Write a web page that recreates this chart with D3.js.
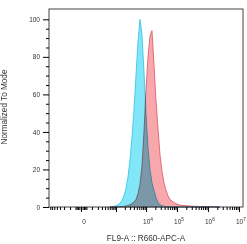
<!DOCTYPE html>
<html>
<head>
<meta charset="utf-8">
<script src="https://cdn.jsdelivr.net/npm/d3@7"></script>
<style>
  body { margin: 0; background: #fff; }
  text { font-family: Arial, "Liberation Sans", sans-serif; }
</style>
</head>
<body>
<div id="chart"></div>
<script>
// fluorescence bin centres (FL9-A :: R660-APC-A)
const binValues = [610, 720, 849, 998, 1170, 1370, 1603, 1872, 2185, 2548,
  2968, 3457, 4024, 4680, 5444, 6328, 7356, 8550, 9930, 11530,
  13390, 15550, 18050, 20960, 24340, 28240, 32790, 38040, 44160, 51260,
  59460, 86200, 125000, 263000, 553000, 2440000];

// normalized to mode (%)
const cyanCounts = [0, 0.2, 0.4, 0.7, 1.2, 2, 3.5, 6, 10, 16,
  25, 37, 52, 70, 88, 100, 92, 72, 50, 32,
  20, 13, 9, 5, 2.5, 1.2, 0.6, 0.4, 0.2, 0.1,
  0, 0, 0, 0, 0, 0];
const redCounts = [0, 0, 0, 0, 0, 0.1, 0.2, 0.3, 0.5, 0.8,
  1.2, 1.8, 2.6, 4, 7, 12, 22, 40, 62, 80,
  91, 94, 76, 57, 42, 28, 19, 13, 9, 6,
  4, 2, 1, 0.5, 0.25, 0];

const yTicks = [0, 20, 40, 60, 80, 100];
const xMajorTicks = [0, 1000, 1e4, 1e5, 1e6, 1e7];
const xLabelTicks = [{v: 0, base: "0", exp: ""}, {v: 1e4, base: "10", exp: "4"},
  {v: 1e5, base: "10", exp: "5"}, {v: 1e6, base: "10", exp: "6"}, {v: 1e7, base: "10", exp: "7"}];

const W = 247, H = 244;
const margin = {left: 49, right: 4, top: 9, bottom: 37};
const xMin = -780, xMax = 1.35e7;

const svg = d3.select("#chart").append("svg")
  .attr("width", W).attr("height", H);

const x = d3.scaleSymlog().constant(80)
  .domain([xMin, xMax])
  .range([margin.left, W - margin.right]);
const y = d3.scaleLinear()
  .domain([0, 105.5])
  .range([H - margin.bottom, margin.top]);

// minor ticks
let xMinor = [];
[10, 20, 30, 40].forEach(v => { xMinor.push(v, -v); });
for (let n = 2; n <= 6; n++) {
  for (let k = 1; k <= 9; k++) {
    const v = k * Math.pow(10, n);
    if (k > 1 || n === 2) {
      xMinor.push(v);
      if (n === 2) xMinor.push(-v);
    }
  }
}
xMinor = xMinor.filter(v => v > xMin && v < xMax);
const yMinor = d3.range(5, 105, 5).filter(v => v % 20 !== 0);

// histograms
const area = d3.area()
  .x((d, i) => x(binValues[i]))
  .y0(y(0))
  .y1(d => y(d));

svg.append("path")
  .datum(redCounts)
  .attr("d", area)
  .attr("fill", "#f8a8ac")
  .attr("stroke", "#dc5560")
  .attr("stroke-width", 0.8);

svg.append("path")
  .datum(cyanCounts)
  .attr("d", area)
  .attr("fill", "#80e6f8")
  .attr("stroke", "#30c2e4")
  .attr("stroke-width", 0.8)
  .style("mix-blend-mode", "multiply");

// frame
svg.append("rect")
  .attr("x", margin.left).attr("y", margin.top)
  .attr("width", W - margin.left - margin.right)
  .attr("height", H - margin.top - margin.bottom)
  .attr("fill", "none")
  .attr("stroke", "#444")
  .attr("stroke-width", 1);

// y axis
const yAxis = svg.append("g")
  .attr("transform", `translate(${margin.left},0)`)
  .call(d3.axisLeft(y).tickValues(yTicks).tickSize(6).tickPadding(3));
yAxis.select(".domain").remove();
yAxis.selectAll("text").attr("font-size", 6.5).attr("fill", "#333");

const yAxisMinor = svg.append("g")
  .attr("transform", `translate(${margin.left},0)`)
  .call(d3.axisLeft(y).tickValues(yMinor).tickSize(3).tickFormat(""));
yAxisMinor.select(".domain").remove();

// x axis
const xAxis = svg.append("g")
  .attr("transform", `translate(0,${H - margin.bottom})`)
  .call(d3.axisBottom(x).tickValues(xMajorTicks).tickSize(5).tickFormat(""));
xAxis.select(".domain").remove();

const xAxisMinor = svg.append("g")
  .attr("transform", `translate(0,${H - margin.bottom})`)
  .call(d3.axisBottom(x).tickValues(xMinor).tickSize(3).tickFormat(""));
xAxisMinor.select(".domain").remove();

const xLabels = svg.append("g");
xLabelTicks.forEach(t => {
  const txt = xLabels.append("text")
    .attr("x", x(t.v) + (t.exp ? 2 : 3))
    .attr("y", H - margin.bottom + 17)
    .attr("text-anchor", "middle")
    .attr("font-size", 6.5)
    .attr("fill", "#333")
    .text(t.base);
  if (t.exp) {
    txt.append("tspan")
      .attr("dy", -3)
      .attr("font-size", 4.8)
      .text(t.exp);
  }
});

// axis titles
svg.append("text")
  .attr("x", 146).attr("y", 241)
  .attr("text-anchor", "middle")
  .attr("font-size", 8.2)
  .attr("fill", "#333")
  .text("FL9-A :: R660-APC-A");

svg.append("text")
  .attr("transform", "translate(7,107) rotate(-90)")
  .attr("text-anchor", "middle")
  .attr("font-size", 8.2)
  .attr("fill", "#333")
  .text("Normalized To Mode");
</script>
</body>
</html>
